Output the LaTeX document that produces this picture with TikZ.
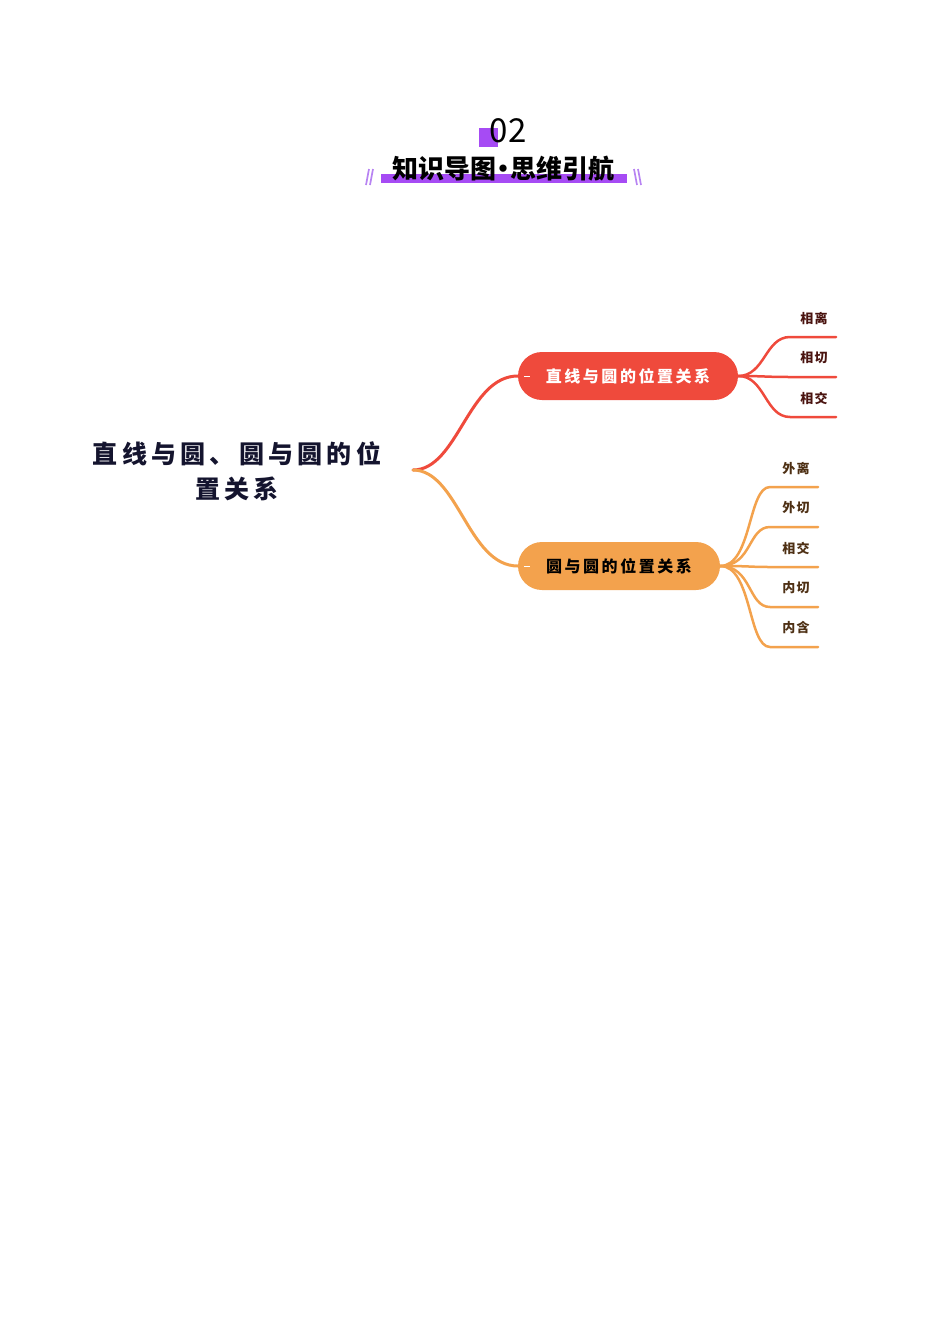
\documentclass[tikz,border=0pt]{standalone}
\usepackage{fontspec}
\newfontfamily\cjk{Noto Sans CJK SC}
\usepackage{xcolor}
\usetikzlibrary{calc}

\definecolor{hongse}{HTML}{EF4A3C}
\definecolor{chengse}{HTML}{F3A24D}
\definecolor{zise}{HTML}{A64BF4}
\definecolor{qianzi}{HTML}{B783F2}
\definecolor{shenlan}{HTML}{14142E}
\definecolor{hongzi}{HTML}{4A1410}
\definecolor{chengzi}{HTML}{4E3014}

\begin{document}
\begin{tikzpicture}[x=1pt, y=-1pt]
        % ================= 样式定义 =================
        \tikzset{
            % 中心主题:深色粗体,字距拉开
            gentext/.style={align=center, text=shenlan, font=\cjk\bfseries\fontsize{25}{35}\selectfont\addfontfeature{LetterSpace=17}},
            % 二级主题:圆头胶囊
            zhuti/.style={rounded corners=24pt, minimum height=48pt, inner sep=0pt, font=\cjk\bfseries\fontsize{16}{18}\selectfont\addfontfeature{LetterSpace=16}},
            % 叶子文字
            yezi/.style={inner sep=0pt, font=\cjk\bfseries\fontsize{13}{15}\selectfont\addfontfeature{LetterSpace=9}},
            % 连线
            hxline/.style={draw=hongse, line width=3pt, line cap=round},
            cxline/.style={draw=chengse, line width=3pt, line cap=round}
        }

        \useasboundingbox (0,0) rectangle (950,1344);

        % ================= 标题 =================
        \fill[zise] (479,128) rectangle (498,147);
        \node[font=\cjk\fontsize{33}{36}\selectfont, text=black] (hao) at (508,131) {02};
        \fill[zise] (381,174) rectangle (627,183);
        \node[font=\cjk\bfseries\fontsize{26}{28}\selectfont, text=black] (biaoti) at (503,169) {知识导图\hspace{-6pt}·\hspace{-6pt}思维引航};
        \draw[qianzi, line width=1.7pt] (366,185) -- (369,169) (370,185) -- (373,169);
        \draw[qianzi, line width=1.7pt] (634,169) -- (637,185) (638,169) -- (641,185);

        % ================= 中心主题 =================
        \node[gentext] (gen) at (237,471) {直线与圆、圆与圆的位\\置关系};
        \coordinate (genR) at (413,470);

        % ================= 二级主题 =================
        \node[zhuti, fill=hongse, text=white, minimum width=220pt] (hx) at (628,376) {直线与圆的位置关系};
        \node[zhuti, fill=chengse, text=black, minimum width=202pt] (yy) at (619,566) {圆与圆的位置关系};
        \draw[white, line width=1pt] ($(hx.west)+(6,0)$) -- ++(6,0);
        \draw[white, line width=1pt] ($(yy.west)+(6,0)$) -- ++(6,0);

        \draw[hxline] (genR) .. controls (458,470) and (468,376) .. (hx.west);
        \draw[cxline] (genR) .. controls (458,470) and (468,566) .. (yy.west);

        % ================= 叶子:直线与圆 =================
        \foreach \i/\t in {1/相离, 2/相切, 3/相交} {
            \node[yezi, text=hongzi] (h\i) at (814,278+40*\i) {\t};
            \coordinate (h\i a) at (790,297+40*\i);
            \coordinate (h\i b) at (836,297+40*\i);
            \draw[hxline, line width=2.5pt] (hx.east) .. controls (765,376) and (765,297+40*\i) .. (h\i a) -- (h\i b);
        }

        % ================= 叶子:圆与圆 =================
        \foreach \i/\t in {1/外离, 2/外切, 3/相交, 4/内切, 5/内含} {
            \node[yezi, text=chengzi] (y\i) at (796,428+40*\i) {\t};
            \coordinate (y\i a) at (770,447+40*\i);
            \coordinate (y\i b) at (818,447+40*\i);
            \draw[cxline, line width=2.5pt] (yy.east) .. controls (752,566) and (748,447+40*\i) .. (y\i a) -- (y\i b);
        }

    \end{tikzpicture}
\end{document}
